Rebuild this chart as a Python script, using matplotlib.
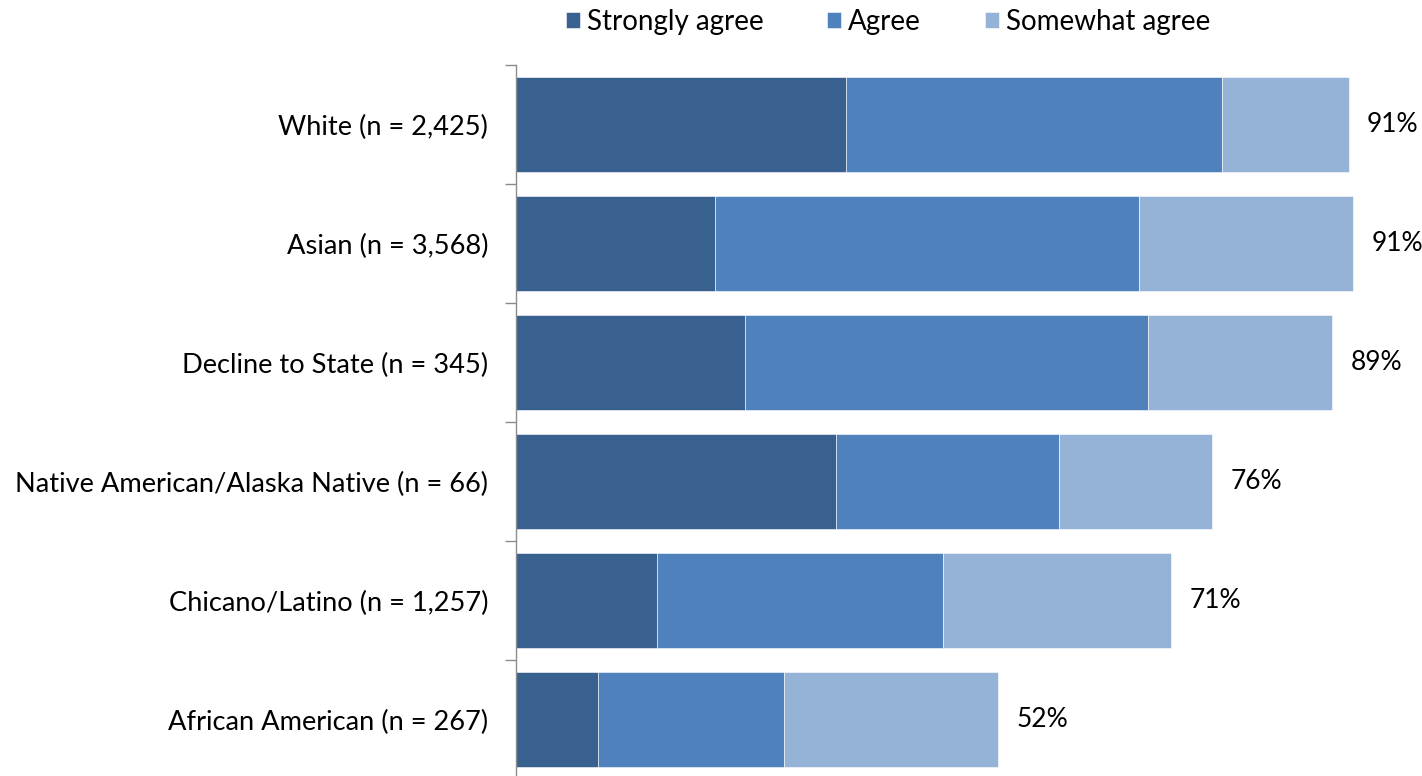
import matplotlib
matplotlib.use("Agg")
import matplotlib.pyplot as plt
import numpy as np

categories = ["White (n = 2,425)", "Asian (n = 3,568)", "Decline to State (n = 345)",
              "Native American/Alaska Native (n = 66)", "Chicano/Latino (n = 1,257)",
              "African American (n = 267)"]
series_names = ["Strongly agree", "Agree", "Somewhat agree"]
strongly = [35.9, 21.6, 24.9, 34.8, 15.3, 8.9]
agree = [40.8, 46.1, 43.8, 24.2, 31.1, 20.2]
somewhat = [13.8, 23.3, 20.0, 16.7, 24.8, 23.3]
totals_labels = ["91%", "91%", "89%", "76%", "71%", "52%"]

colors = ["#38618F", "#4F81BD", "#95B3D7"]

plt.rcParams['font.family'] = ['Lato', 'DejaVu Sans']

W, H = 1422, 776
fig = plt.figure(figsize=(W / 100, H / 100), dpi=100)
left_px, top_px, bottom_px, right_px = 516, 65, 779, 1422
ax = fig.add_axes([left_px / W, 1 - bottom_px / H, (right_px - left_px) / W, (bottom_px - top_px) / H])

n = len(categories)
y = np.arange(n)[::-1]
left = np.zeros(n)
for vals, c, name in zip([strongly, agree, somewhat], colors, series_names):
    ax.barh(y, vals, left=left, height=0.8, color=c, edgecolor="#ffffff", linewidth=0.4, label=name)
    left = left + np.array(vals)

for yi, tot, lab in zip(y, left, totals_labels):
    ax.text(tot + 2.0, yi, lab, va="center", ha="left", fontsize=19, color="black")

ax.set_xlim(0, (right_px - left_px) / 9.2)
ax.set_ylim(-0.5, n - 0.5)
ax.set_yticks(y)
ax.set_yticklabels(categories, fontsize=19.6)
ax.set_yticks(np.arange(n + 1) - 0.5, minor=True)
ax.tick_params(axis="y", which="major", length=0, pad=20)
ax.tick_params(axis="y", which="minor", length=8, color="#8c8c8c", width=1)
ax.set_xticks([])
for s in ["top", "right", "bottom"]:
    ax.spines[s].set_visible(False)
ax.spines["left"].set_color("#8c8c8c")
ax.spines["left"].set_linewidth(1)

handles, labels = ax.get_legend_handles_labels()
fig.legend(handles, labels, loc="center", bbox_to_anchor=(888 / W, 1 - 22 / H), ncol=3,
           frameon=False, fontsize=20, handlelength=0.5, handleheight=0.5,
           handletextpad=0.25, columnspacing=2.3)

fig.savefig("out.png", dpi=100)
